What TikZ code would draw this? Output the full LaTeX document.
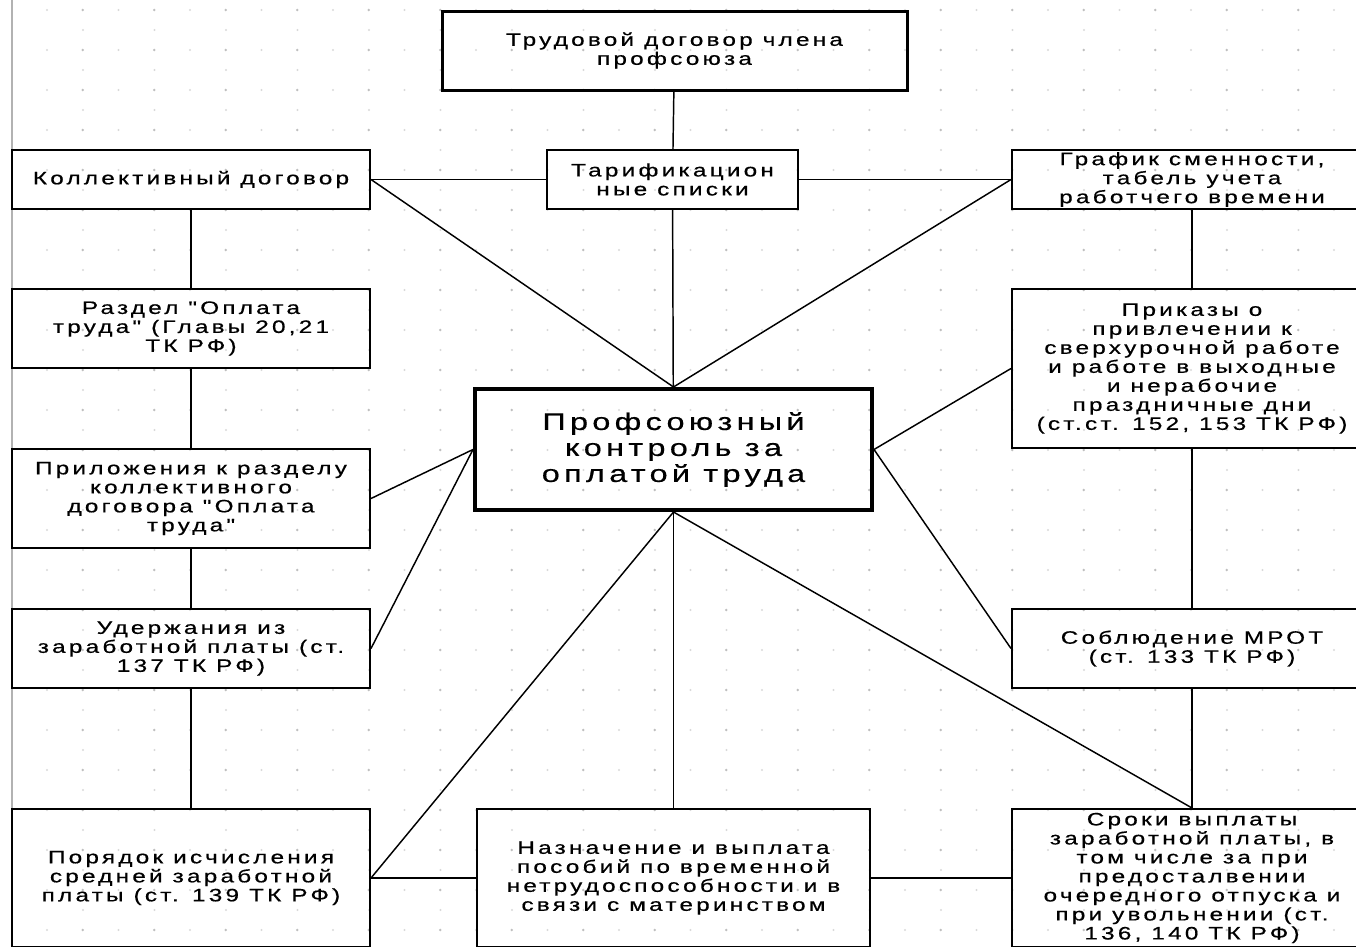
\documentclass[tikz,border=0pt]{standalone}
\usepackage{fontspec}
\usepackage{tikz}
\newfontfamily\chartfont[LetterSpace=18, FakeStretch=1.35, FakeBold=0.6]{Liberation Sans}

\begin{document}
\begin{tikzpicture}[x=0.75pt, y=-0.75pt,
    block/.style={draw, line width=1.5pt, inner sep=0pt, align=center,
      font=\chartfont\fontsize{13.5}{14.25}\selectfont},
    mainblock/.style={block, line width=3pt,
      font=\chartfont\fontsize{18}{19.5}\selectfont},
    boxsize/.style 2 args={minimum width=#1*0.75pt, minimum height=#2*0.75pt},
    link/.style={line width=1.1pt}]

  \clip (0,0) rectangle (1356,946);

  % Dotted grid of the sheet
  \foreach \row in {0,...,23} {
    \foreach \col in {0,...,37} {
      \ifodd\col
        \fill[gray!50] (47+35.75*\col, 10+40*\row) circle (1.4);
      \else
        \fill[gray!30] (47+35.75*\col, 10+40*\row) circle (1.1);
      \fi
    }
    \foreach \col in {0,...,18}
      \fill[gray!30] (83+71.5*\col, 30+40*\row) circle (1.1);
  }
  \draw[gray!60, line width=1pt] (12,0) -- (12,946);

  % Boxes
  \node[block, boxsize={465}{79}, line width=2.25pt] (Contract) at (674.5,50.5)
    {Трудовой договор члена\\профсоюза};
  \node[block, boxsize={358}{59}] (Collective) at (191,179.5)
    {Коллективный договор};
  \node[block, boxsize={251}{59}] (Tariff) at (672.5,179.5)
    {Тарификацион\\ные списки};
  \node[block, boxsize={360}{59}] (Schedule) at (1192,179.5)
    {График сменности,\\табель учета\\работчего времени};

  \node[block, boxsize={358}{79}] (Section) at (191,328.5)
    {Раздел "Оплата\\труда" (Главы 20,21\\ТК РФ)};
  \node[block, boxsize={360}{159}] (Orders) at (1192,368.5)
    {Приказы о\\привлечении к\\сверхурочной работе\\и работе в выходные\\и нерабочие\\праздничные дни\\(ст.ст. 152, 153 ТК РФ)};

  \node[mainblock, boxsize={397}{121}] (Control) at (673.5,449.5)
    {Профсоюзный\\контроль за\\оплатой труда};

  \node[block, boxsize={358}{99}] (Annex) at (191,498.5)
    {Приложения к разделу\\коллективного\\договора "Оплата\\труда"};
  \node[block, boxsize={358}{79}] (Deductions) at (191,648.5)
    {Удержания из\\заработной платы (ст.\\137 ТК РФ)};
  \node[block, boxsize={360}{79}] (MinWage) at (1192,648.5)
    {Соблюдение МРОТ\\(ст. 133 ТК РФ)};

  \node[block, boxsize={358}{138}] (Average) at (191,878)
    {Порядок исчисления\\средней заработной\\платы (ст. 139 ТК РФ)};
  \node[block, boxsize={393}{138}] (Benefits) at (673.5,878)
    {Назначение и выплата\\пособий по временной\\нетрудоспособности и в\\связи с материнством};
  \node[block, boxsize={360}{138}] (Terms) at (1192,878)
    {Сроки выплаты\\заработной платы, в\\том числе за при\\предосталвении\\очередного отпуска и\\при увольнении (ст.\\136, 140 ТК РФ)};

  % Top row
  \draw[link] (Contract) -- (Tariff);
  \draw[link] (Collective) -- (Tariff);
  \draw[link] (Tariff) -- (Schedule);

  % Left and right columns
  \draw[link] (Collective) -- (Section);
  \draw[link] (Section) -- (Annex);
  \draw[link] (Annex) -- (Deductions);
  \draw[link] (Deductions) -- (Average);
  \draw[link] (Schedule) -- (Orders);
  \draw[link] (Orders) -- (MinWage);
  \draw[link] (MinWage) -- (Terms);

  % Bottom row
  \draw[link] (Average) -- (Benefits);
  \draw[link] (Benefits) -- (Terms);

  % Spokes of the centre box
  \draw[link] (Collective.east) -- (Control.north);
  \draw[link] (Tariff) -- (Control);
  \draw[link] (Schedule.west) -- (Control.north);
  \draw[link] (Annex.east) -- (Control.west);
  \draw[link] (Deductions.east) -- (Control.west);
  \draw[link] (Orders.west) -- (Control.east);
  \draw[link] (Control.east) -- (MinWage.west);
  \draw[link] (Average.east) -- (Control.south);
  \draw[link] (Control) -- (Benefits);
  \draw[link] (Control.south) -- (Terms.north);

\end{tikzpicture}
\end{document}
